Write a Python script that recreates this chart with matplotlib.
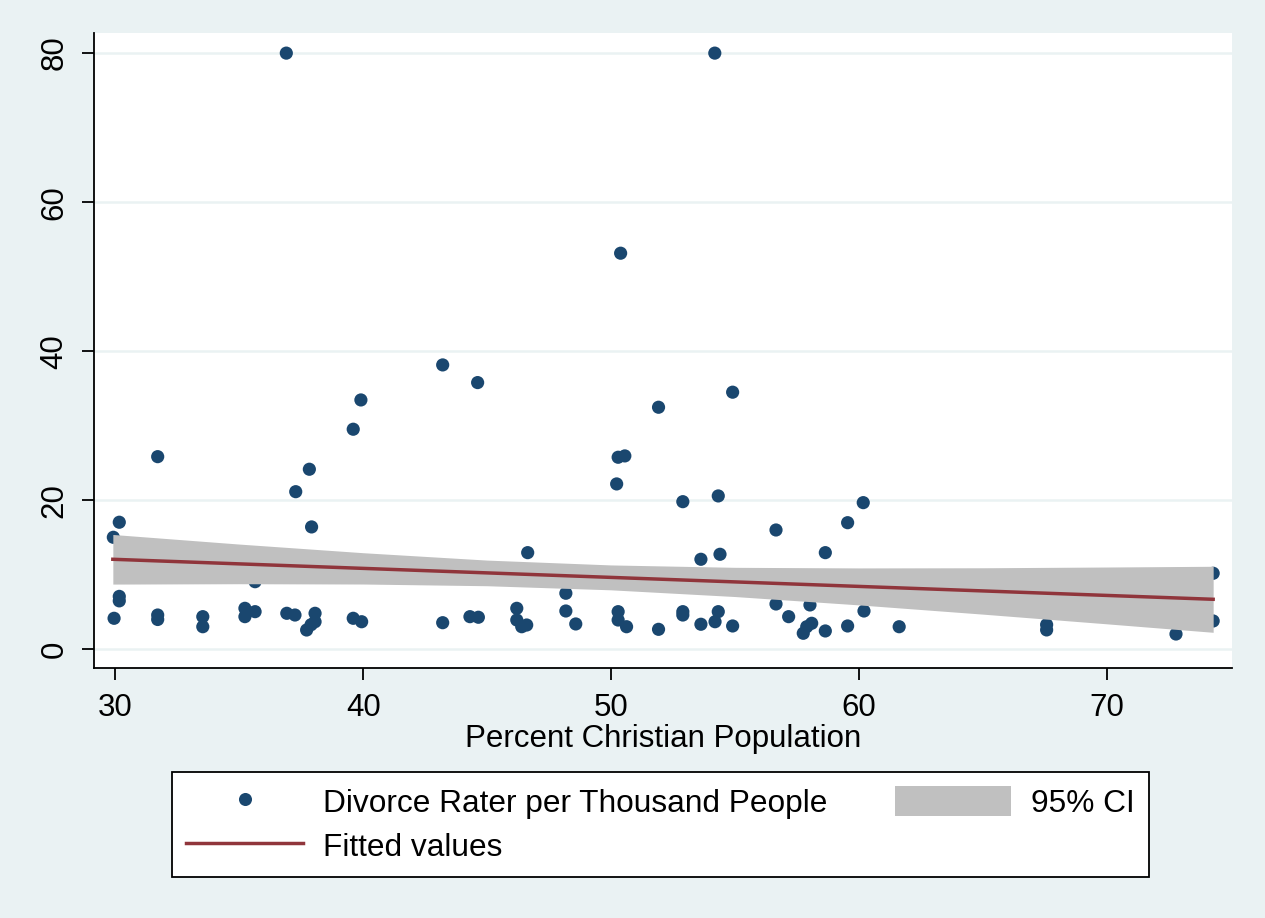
import matplotlib
matplotlib.use("Agg")
import matplotlib.pyplot as plt
from matplotlib.patches import Patch
from matplotlib.lines import Line2D

plt.rcParams['font.family'] = ['Liberation Sans', 'DejaVu Sans']

# ---- data ----
christian_pct = [31.71, 39.60, 39.91, 37.83, 37.28, 30.16, 29.92, 37.92, 35.64, 30.16,
                 30.16, 29.95, 31.71, 31.71, 33.53, 33.53, 35.23, 35.64, 35.23, 36.92,
                 37.25, 37.72, 38.06, 38.06, 37.90, 39.60, 39.94, 43.21, 44.62, 50.29,
                 50.56, 50.23, 46.64, 48.18, 48.18, 48.58, 43.21, 44.31, 44.65, 46.20,
                 46.20, 46.60, 46.40, 50.29, 50.29, 50.63, 51.92, 54.91, 52.90, 54.33,
                 56.66, 59.55, 60.18, 53.63, 54.40, 58.65, 56.66, 58.03, 60.21, 51.92,
                 52.90, 52.90, 53.63, 54.33, 54.20, 54.91, 57.17, 57.76, 57.90, 58.10,
                 58.65, 59.55, 61.63, 67.58, 67.58, 72.80, 74.30, 74.30, 36.90, 54.19,
                 50.39]
divorce_rate = [25.85, 29.53, 33.46, 24.16, 21.15, 17.05, 15.03, 16.42, 9.07, 6.50,
                7.10, 4.16, 4.00, 4.60, 4.38, 3.03, 5.50, 5.05, 4.38, 4.83,
                4.60, 2.59, 3.70, 4.83, 3.30, 4.16, 3.70, 38.16, 35.79, 25.77,
                25.95, 22.19, 12.97, 7.52, 5.14, 3.40, 3.57, 4.38, 4.30, 5.50,
                3.93, 3.26, 3.03, 5.05, 3.93, 3.03, 32.48, 34.50, 19.81, 20.58,
                16.01, 16.99, 19.68, 12.08, 12.75, 12.97, 6.08, 5.95, 5.14, 2.68,
                5.05, 4.60, 3.36, 5.05, 3.70, 3.13, 4.38, 2.15, 3.03, 3.49,
                2.46, 3.13, 3.03, 2.60, 3.30, 2.05, 10.20, 3.80, 80.0, 80.0,
                53.15]

fit_x = [29.9, 74.3]
fit_y = [12.08, 6.71]

ci_x = [29.9, 35, 40, 45, 50, 55, 60, 65, 70, 74.3]
ci_low = [8.75, 8.80, 8.76, 8.53, 7.98, 7.08, 5.96, 4.72, 3.42, 2.28]
ci_high = [15.41, 14.12, 12.96, 11.97, 11.32, 11.00, 10.92, 10.94, 11.04, 11.14]

x_ticks = [30, 40, 50, 60, 70]
y_ticks = [0, 20, 40, 60, 80]

# ---- styling ----
BG = '#EAF2F3'
NAVY = '#1A476F'
MAROON = '#90353B'
CIGRAY = '#C0C0C0'
FS = 22.5
LFS = 22.8

W, H = 1265, 918
fig = plt.figure(figsize=(W / 100, H / 100), dpi=100, facecolor=BG)
ax = fig.add_axes([94 / W, 1 - 668.3 / H, (1232 - 94) / W, (668.3 - 33) / H])
ax.set_facecolor('white')

ax.scatter(christian_pct, divorce_rate, s=90, color=NAVY, edgecolors='none', zorder=2)
ax.fill_between(ci_x, ci_low, ci_high, color=CIGRAY, linewidth=0, zorder=3)
ax.plot(fit_x, fit_y, color=MAROON, lw=2.5, zorder=4)

ax.set_xlim(29.14, 75.06)
ax.set_ylim(-2.55, 82.7)
ax.set_xticks(x_ticks)
ax.set_yticks(y_ticks)
ax.yaxis.grid(True, color=BG, lw=1.8, zorder=0)
ax.set_axisbelow(True)

for s in ['top', 'right']:
    ax.spines[s].set_visible(False)
for s in ['left', 'bottom']:
    ax.spines[s].set_color('black')
    ax.spines[s].set_linewidth(1.3)

ax.tick_params(axis='both', direction='out', length=8.6, width=1.3, color='black',
               labelsize=FS, labelcolor='black')
ax.tick_params(axis='x', pad=9)
ax.tick_params(axis='y', pad=9)
for lbl in ax.get_yticklabels():
    lbl.set_rotation(90)
    lbl.set_va('center')

ax.set_xlabel('Percent Christian Population', fontsize=FS, labelpad=1)

handles = [
    Line2D([], [], linestyle='none', marker='o', markersize=9.4, color=NAVY,
           markeredgewidth=0),
    Line2D([], [], color=MAROON, lw=2.5),
    Patch(facecolor=CIGRAY, edgecolor='none'),
]
labels = ['Divorce Rater per Thousand People', 'Fitted values', '95% CI']
leg = fig.legend(handles, labels, ncol=2, loc='upper left',
                 bbox_to_anchor=(172 / W, 1 - 772 / H), bbox_transform=fig.transFigure,
                 fontsize=LFS, frameon=True, fancybox=False, framealpha=1,
                 edgecolor='black', borderpad=0.45, handlelength=3.69,
                 handletextpad=0.63, columnspacing=2.12, labelspacing=0.34,
                 handleheight=1.09, borderaxespad=0)
leg.get_frame().set_linewidth(1.3)

fig.savefig('out.png', dpi=100, facecolor=BG)
